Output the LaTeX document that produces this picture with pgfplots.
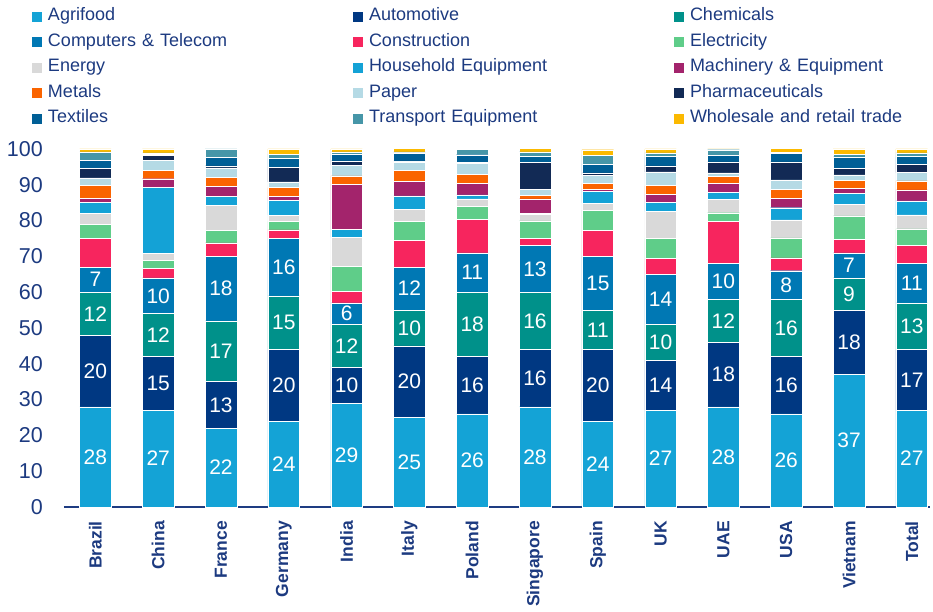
\documentclass[border=0pt]{standalone}
\usepackage{pgfplots}
\usepackage{pgfplotstable}
\usepackage{fontspec}
\setmainfont{Liberation Sans}
\pgfplotsset{compat=1.18}
\definecolor{cAgri}{RGB}{20,163,214}
\definecolor{cAuto}{RGB}{0,56,130}
\definecolor{cChem}{RGB}{0,145,138}
\definecolor{cComp}{RGB}{0,120,180}
\definecolor{cCons}{RGB}{247,37,94}
\definecolor{cElec}{RGB}{95,205,137}
\definecolor{cEner}{RGB}{217,217,217}
\definecolor{cHous}{RGB}{20,162,214}
\definecolor{cMach}{RGB}{163,36,108}
\definecolor{cMeta}{RGB}{250,100,0}
\definecolor{cPape}{RGB}{181,218,229}
\definecolor{cPhar}{RGB}{18,42,85}
\definecolor{cText}{RGB}{0,95,150}
\definecolor{cTran}{RGB}{70,150,168}
\definecolor{cWhol}{RGB}{251,185,0}
\definecolor{navytxt}{RGB}{28,58,128}
\definecolor{axisblue}{RGB}{30,60,130}

\pgfplotstableread{
x Agri Auto Chem Comp Cons Elec Ener Hous Mach Meta Pape Phar Text Tran Whol
0 28 20 12 7 8 4 3 3 1.3 3.6 2 2.6 2.4 2.3 0.8
1 27 15 12 10 2.6 2.2 2.1 18.4 2.4 2.4 2.8 1.3 0.4 0.3 1.1
2 22 13 17 18 3.8 3.4 7.1 2.4 2.8 2.6 2.6 0.6 2.3 2.4 0
3 24 20 15 16 2.4 2.4 1.7 4.1 1.1 2.5 1.6 4.1 2.4 1.3 1.4
4 29 10 12 6 3.2 7.0 8.1 2.3 12.6 2.3 3.0 1.2 1.8 0.7 0.8
5 25 20 10 12 7.5 5.3 3.3 3.8 4.0 3.1 2.4 0.3 2.2 0.3 1.0
6 26 16 18 11 9.4 3.6 2.1 1.1 3.3 2.4 3.0 0.3 2.2 1.5 0.2
7 28 16 16 13 2.1 4.8 1.8 0.4 4.0 1.0 1.7 7.5 1.7 1.2 0.9
8 24 20 11 15 7.2 5.7 2.0 3.3 0.6 1.6 2.3 0.6 2.5 2.5 1.5
9 27 14 10 14 4.4 5.6 7.5 2.5 2.4 2.4 3.8 1.7 2.6 1.0 1.1
10 28 18 12 10 11.8 2.4 3.7 1.9 2.6 2.0 0.9 3.1 1.8 1.6 0.2
11 26 16 16 8 3.6 5.6 5.0 3.4 2.6 2.5 2.7 5.0 2.3 0.4 1.0
12 37 18 9 7 3.7 6.6 3.3 3.0 1.4 2.3 1.5 1.7 3.3 0.7 1.5
13 27 17 13 11 5.1 4.6 3.9 3.9 3.1 2.5 2.3 2.3 2.2 1.0 1.1
}\shares

\pgfplotstableread{
x y lab
0 14 28
0 38 20
0 54 12
0 63.5 7
1 13.5 27
1 34.5 15
1 48 12
1 59 10
2 11 22
2 28.5 13
2 43.5 17
2 61 18
3 12 24
3 34 20
3 51.5 15
3 67 16
4 14.5 29
4 34 10
4 45 12
4 54 6
5 12.5 25
5 35 20
5 50 10
5 61 12
6 13 26
6 34 16
6 51 18
6 65.5 11
7 14 28
7 36 16
7 52 16
7 66.5 13
8 12 24
8 34 20
8 49.5 11
8 62.5 15
9 13.5 27
9 34 14
9 46 10
9 58 14
10 14 28
10 37 18
10 52 12
10 63 10
11 13 26
11 34 16
11 50 16
11 62 8
12 18.5 37
12 46 18
12 59.5 9
12 67.5 7
13 13.5 27
13 35.5 17
13 50.5 13
13 62.5 11
}\labels

\begin{document}
\begin{tikzpicture}
\path[use as bounding box] (-64pt,-105pt) rectangle (869pt,507pt);
\begin{axis}[
  at={(0,0)}, anchor=south west,
  scale only axis,
  width=866pt, height=358pt,
  ybar stacked, bar width=31.7pt,
  xmin=-0.5, xmax=13.29, ymin=0, ymax=100,
  enlargelimits=false, clip=false,
  xtick={0,...,13},
  xticklabels={Brazil,China,France,Germany,India,Italy,Poland,Singapore,Spain,UK,UAE,USA,Vietnam,Total},
  xticklabel style={rotate=90, anchor=east, inner sep=0pt, font=\fontsize{17.5}{19}\selectfont\bfseries, text=navytxt},
  xticklabel shift=14pt,
  ytick={0,10,...,100},
  yticklabel style={anchor=east, inner sep=0pt, font=\fontsize{21.5}{24}\selectfont, text=navytxt},
  yticklabel shift=21pt,
  /pgf/number format/assume math mode=true,
  axis x line*=bottom, axis y line*=left,
  x axis line style={draw=axisblue, line width=1.3pt, -},
  y axis line style={draw=none},
  major tick length=0pt,
  tick style={draw=none},
  every axis plot post/.append style={
    legend image code/.code={\fill[##1,draw=none] (0pt,-5pt) rectangle (10pt,5pt);}},
  legend columns=3,
  legend cell align=left,
  legend style={
    draw=none, fill=none, inner sep=0pt, outer sep=0pt,
    at={(rel axis cs:0,1)}, anchor=north west,
    xshift=-32pt, yshift=145pt,
    column sep=3pt, row sep=0pt,
    font=\fontsize{18}{21}\selectfont, text=navytxt,
    nodes={inner xsep=3pt, inner ysep=4.75pt, text height=12pt, text depth=4pt, text width=299pt, align=left},
  },
]
\addplot[fill=cAgri, draw=white, line width=0.4pt] table[x=x,y=Agri]{\shares};
\addplot[fill=cAuto, draw=white, line width=0.4pt] table[x=x,y=Auto]{\shares};
\addplot[fill=cChem, draw=white, line width=0.4pt] table[x=x,y=Chem]{\shares};
\addplot[fill=cComp, draw=white, line width=0.4pt] table[x=x,y=Comp]{\shares};
\addplot[fill=cCons, draw=white, line width=0.4pt] table[x=x,y=Cons]{\shares};
\addplot[fill=cElec, draw=white, line width=0.4pt] table[x=x,y=Elec]{\shares};
\addplot[fill=cEner, draw=white, line width=0.4pt] table[x=x,y=Ener]{\shares};
\addplot[fill=cHous, draw=white, line width=0.4pt] table[x=x,y=Hous]{\shares};
\addplot[fill=cMach, draw=white, line width=0.4pt] table[x=x,y=Mach]{\shares};
\addplot[fill=cMeta, draw=white, line width=0.4pt] table[x=x,y=Meta]{\shares};
\addplot[fill=cPape, draw=white, line width=0.4pt] table[x=x,y=Pape]{\shares};
\addplot[fill=cPhar, draw=white, line width=0.4pt] table[x=x,y=Phar]{\shares};
\addplot[fill=cText, draw=white, line width=0.4pt] table[x=x,y=Text]{\shares};
\addplot[fill=cTran, draw=white, line width=0.4pt] table[x=x,y=Tran]{\shares};
\addplot[fill=cWhol, draw=white, line width=0.4pt] table[x=x,y=Whol]{\shares};
\legend{Agrifood,Automotive,Chemicals,Computers \& Telecom,Construction,Electricity,Energy,Household Equipment,Machinery \& Equipment,Metals,Paper,Pharmaceuticals,Textiles,Transport Equipment,Wholesale and retail trade}
\end{axis}
\begin{axis}[
  at={(0,0)}, anchor=south west,
  scale only axis,
  width=866pt, height=358pt,
  xmin=-0.5, xmax=13.29, ymin=0, ymax=100,
  hide axis, clip=false,
]
\addplot[draw=none, mark=none, nodes near coords, point meta=explicit symbolic,
  nodes near coords style={anchor=center, text=white, font=\fontsize{21}{24}\selectfont, inner sep=0pt}]
  table[x=x, y=y, meta=lab] {\labels};
\end{axis}
\end{tikzpicture}
\end{document}
